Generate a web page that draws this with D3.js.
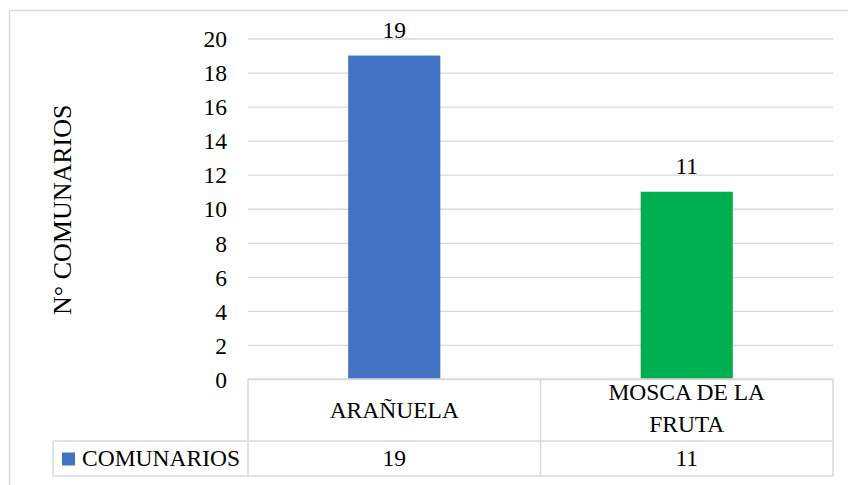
<!DOCTYPE html>
<html>
<head>
<meta charset="utf-8">
<script src="https://cdn.jsdelivr.net/npm/d3@7"></script>
<style>
	body { margin: 0; background: #fff; }
	svg { display: block; }
</style>
</head>
<body>
<svg id="chart" width="848" height="485"></svg>
<script>
const categories = ['ARAÑUELA', 'MOSCA DE LA FRUTA'];
const categoryLines = [['ARAÑUELA'], ['MOSCA DE LA', 'FRUTA']];
const values = [19, 11];
const barColors = ['#4472c4', '#00b050'];
const yTicks = [0, 2, 4, 6, 8, 10, 12, 14, 16, 18, 20];
const seriesName = 'COMUNARIOS';
const yTitle = 'N° COMUNARIOS';

const serif = "'Liberation Serif'";
const $svg = d3.select('#chart');
const $g = $svg.append('g').attr('font-family', serif);
const grid = '#d9d9d9';

const plotLeft = 248;
const plotRight = 833;
const plotTop = 38.5;
const plotBottom = 379;
const row1 = 441;
const row2 = 476;
const legendLeft = 53;
const fs = 23.5;

// outer frame
$g.append('rect')
	.attr('x', 9.5).attr('y', 10.5)
	.attr('width', 860).attr('height', 500)
	.attr('fill', 'none').attr('stroke', grid).attr('stroke-width', 1.5);

const x = d3.scaleBand().domain(categories).range([plotLeft, plotRight]);
const y = d3.scaleLinear().domain([0, 20]).range([plotBottom, plotTop]);

// gridlines
$g.append('g')
	.attr('transform', `translate(${plotLeft},0)`)
	.call(d3.axisLeft(y).tickValues(yTicks).tickSize(-(plotRight - plotLeft)).tickFormat(''))
	.call(g => g.select('.domain').remove())
	.call(g => g.selectAll('line').attr('stroke', grid).attr('stroke-width', 1.3));

// tick labels
$g.append('g')
	.attr('transform', `translate(${plotLeft - 21},0)`)
	.call(d3.axisLeft(y).tickValues(yTicks).tickSize(0).tickPadding(0))
	.attr('font-family', serif)
	.attr('font-size', fs)
	.call(g => g.select('.domain').remove())
	.call(g => g.selectAll('text').attr('fill', '#000').attr('dy', '0.35em'));

// bars
const bw = x.bandwidth() * 0.315;
$g.append('g').selectAll('rect')
	.data(values)
	.join('rect')
	.attr('x', (d, i) => x(categories[i]) + (x.bandwidth() - bw) / 2)
	.attr('y', d => y(d))
	.attr('width', bw)
	.attr('height', d => y(0) - y(d))
	.attr('fill', (d, i) => barColors[i]);

// value labels
$g.append('g').selectAll('text')
	.data(values)
	.join('text')
	.attr('x', (d, i) => x(categories[i]) + x.bandwidth() / 2)
	.attr('y', d => y(d) - 17.5)
	.attr('text-anchor', 'middle')
	.attr('font-size', fs)
	.text(d => d);

// y title
$g.append('text')
	.attr('transform', `translate(71,${(plotTop + plotBottom) / 2 + 1}) rotate(-90)`)
	.attr('text-anchor', 'middle')
	.attr('font-size', 26)
	.text(yTitle);

// data table
const tbl = $g.append('g')
	.attr('fill', 'none').attr('stroke', grid).attr('stroke-width', 1.5);
tbl.append('line').attr('x1', plotLeft).attr('x2', plotRight).attr('y1', plotBottom).attr('y2', plotBottom);
tbl.append('line').attr('x1', legendLeft).attr('x2', plotRight).attr('y1', row1).attr('y2', row1);
tbl.append('line').attr('x1', legendLeft).attr('x2', plotRight).attr('y1', row2).attr('y2', row2);
tbl.append('line').attr('x1', legendLeft).attr('x2', legendLeft).attr('y1', row1).attr('y2', row2);
tbl.selectAll('.col')
	.data([plotLeft, x(categories[1]), plotRight])
	.join('line')
	.attr('x1', d => d).attr('x2', d => d)
	.attr('y1', plotBottom).attr('y2', row2);

// category labels
const cat = $g.append('g').selectAll('text')
	.data(categoryLines)
	.join('text')
	.attr('text-anchor', 'middle')
	.attr('font-size', fs)
	.attr('x', (d, i) => x(categories[i]) + x.bandwidth() / 2)
	.attr('y', d => d.length === 1 ? 418 : 400);
cat.selectAll('tspan')
	.data(d => d)
	.join('tspan')
	.attr('x', function () { return this.parentNode.getAttribute('x'); })
	.attr('dy', (d, i) => i === 0 ? 0 : 31.5)
	.text(d => d);

// table values
$g.append('g').selectAll('text')
	.data(values)
	.join('text')
	.attr('x', (d, i) => x(categories[i]) + x.bandwidth() / 2)
	.attr('y', 466)
	.attr('text-anchor', 'middle')
	.attr('font-size', fs)
	.text(d => d);

// legend key
$g.append('rect')
	.attr('x', 62).attr('y', 452.5)
	.attr('width', 13).attr('height', 13)
	.attr('fill', barColors[0]);
$g.append('text')
	.attr('x', 240).attr('y', 466)
	.attr('text-anchor', 'end')
	.attr('font-size', fs)
	.text(seriesName);
</script>
</body>
</html>
